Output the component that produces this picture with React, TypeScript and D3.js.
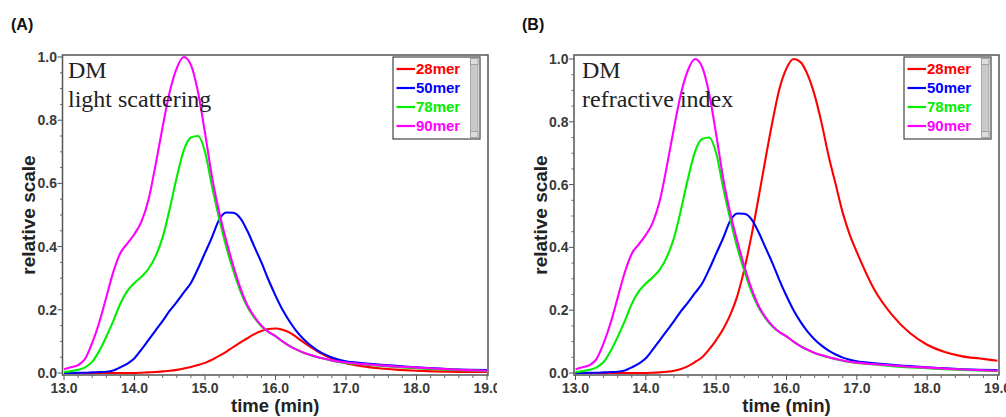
import React from 'react';
import * as d3 from 'd3';

// ---- data ----
const times = [
  13.0, 13.1, 13.2, 13.3, 13.4, 13.5, 13.6, 13.7, 13.8, 13.9,
  14.0, 14.1, 14.2, 14.3, 14.4, 14.5, 14.6, 14.7, 14.8, 14.9,
  15.0, 15.1, 15.2, 15.3, 15.4, 15.5, 15.6, 15.7, 15.8, 15.9,
  16.0, 16.1, 16.2, 16.3, 16.4, 16.5, 16.6, 16.7, 16.8, 16.9,
  17.0, 17.25, 17.5, 17.75, 18.0, 18.25, 18.5, 18.75, 19.0,
];

const mer90 = [
  0.012, 0.018, 0.025, 0.045, 0.095, 0.16, 0.24, 0.32, 0.38, 0.41,
  0.44, 0.48, 0.55, 0.66, 0.78, 0.89, 0.965, 1.0, 0.975, 0.89,
  0.76, 0.62, 0.51, 0.42, 0.34, 0.27, 0.215, 0.178, 0.15, 0.13,
  0.117, 0.1, 0.085, 0.074, 0.064, 0.057, 0.05, 0.045, 0.04, 0.036,
  0.033, 0.028, 0.024, 0.02, 0.017, 0.014, 0.011, 0.009, 0.007,
];

const mer78 = [
  0.003, 0.006, 0.01, 0.018, 0.035, 0.07, 0.115, 0.165, 0.22, 0.26,
  0.285, 0.305, 0.33, 0.37, 0.43, 0.52, 0.62, 0.705, 0.745, 0.75,
  0.7, 0.59, 0.49, 0.4, 0.325, 0.26, 0.21, 0.175, 0.148, 0.13,
  0.117, 0.1, 0.086, 0.074, 0.064, 0.056, 0.05, 0.044, 0.039, 0.035,
  0.032, 0.027, 0.022, 0.018, 0.015, 0.012, 0.01, 0.008, 0.006,
];

const mer50 = [
  0, 0, 0.001, 0.001, 0.002, 0.003, 0.004, 0.008, 0.018, 0.03,
  0.047, 0.075, 0.105, 0.135, 0.165, 0.197, 0.225, 0.255, 0.285, 0.33,
  0.38, 0.43, 0.485, 0.508, 0.507, 0.49, 0.45, 0.4, 0.35, 0.295,
  0.245, 0.2, 0.163, 0.132, 0.107, 0.087, 0.071, 0.059, 0.049, 0.042,
  0.037, 0.031, 0.026, 0.022, 0.018, 0.015, 0.012, 0.01, 0.009,
];

const mer28LS = [
  0, 0, 0, 0, 0, 0, 0, 0, 0, 0,
  0, 0.001, 0.002, 0.003, 0.005, 0.007, 0.01, 0.014, 0.019, 0.025,
  0.032, 0.042, 0.054, 0.067, 0.082, 0.096, 0.11, 0.123, 0.133, 0.139,
  0.141, 0.137, 0.128, 0.113, 0.097, 0.082, 0.068, 0.056, 0.046, 0.038,
  0.031, 0.021, 0.014, 0.01, 0.007, 0.005, 0.004, 0.003, 0.003,
];

const mer28RI = [
  0, 0, 0, 0, 0, 0, 0, 0, 0, 0,
  0, 0.001, 0.002, 0.004, 0.007, 0.013, 0.022, 0.035, 0.05, 0.075,
  0.105, 0.14, 0.185, 0.245, 0.33, 0.435, 0.555, 0.68, 0.8, 0.905,
  0.97, 1.0, 0.99, 0.95, 0.885, 0.795, 0.69, 0.6, 0.51, 0.44,
  0.385, 0.265, 0.185, 0.128, 0.09, 0.067, 0.053, 0.046, 0.039,
];

const seriesNames = ['28mer', '50mer', '78mer', '90mer'];
const seriesColors = ['#ff0000', '#0000ff', '#00ee00', '#ff00ff'];
const xTickLabels = ['13.0', '14.0', '15.0', '16.0', '17.0', '18.0', '19.0'];
const yTickLabels = ['0.0', '0.2', '0.4', '0.6', '0.8', '1.0'];

type PanelCfg = {
  id: string;
  tag: string;
  tagX: number;
  line1: string;
  line2: string;
  textX: number;
  left: number;
  right: number;
  top: number;
  bottom: number;
  x0: number;
  x1: number;
  y0: number;
  y1: number;
  clipLeft: number;
  clipRight: number;
  data: number[][];
};

const panels: PanelCfg[] = [
  {
    id: 'A', tag: '(A)', tagX: 11, line1: 'DM', line2: 'light scattering', textX: 68,
    left: 62.5, right: 488, top: 55, bottom: 375, x0: 64, x1: 487, y0: 373, y1: 57,
    clipLeft: 0, clipRight: 497,
    data: [mer28LS, mer50, mer78, mer90],
  },
  {
    id: 'B', tag: '(B)', tagX: 522, line1: 'DM', line2: 'refractive index', textX: 582,
    left: 574, right: 999, top: 55, bottom: 375, x0: 575.5, x1: 997.5, y0: 373, y1: 59,
    clipLeft: 500, clipRight: 1006,
    data: [mer28RI, mer50, mer78, mer90],
  },
];

const SANS = 'Arial, "Liberation Sans", Helvetica, sans-serif';
const SERIF = '"Times New Roman", "Liberation Serif", serif';

function Panel({ p }: { p: PanelCfg }) {
  const x = d3.scaleLinear().domain([13, 19]).range([p.x0, p.x1]);
  const y = d3.scaleLinear().domain([0, 1]).range([p.y0, p.y1]);
  const line = d3
    .line<[number, number]>()
    .x((d) => x(d[0]))
    .y((d) => y(d[1]))
    .curve(d3.curveMonotoneX);

  const xMajor = xTickLabels.map((s) => +s);
  const xMinor = d3.range(13, 19.001, 0.2).filter((v) => Math.abs(v - Math.round(v)) > 0.01);
  const yMajor = yTickLabels.map((s) => +s);
  const yMinor = d3.range(0, 1.001, 0.05).filter((v) => Math.abs(v * 5 - Math.round(v * 5)) > 0.01);

  const legX = p.right - 95;
  const legY = 57;
  const legW = 87;
  const legH = 82;
  const rowY = [69, 88, 107, 126];
  const midX = (p.left + p.right) / 2;
  const midY = (p.top + p.bottom) / 2;
  const ylabX = p.left - 34;

  return (
    <g clipPath={`url(#panel-${p.id})`}>
      <defs>
        <clipPath id={`panel-${p.id}`}>
          <rect x={p.clipLeft} y={0} width={p.clipRight - p.clipLeft} height={417} />
        </clipPath>
        <clipPath id={`plot-${p.id}`}>
          <rect x={p.left} y={p.top} width={p.right - p.left} height={p.bottom - p.top} />
        </clipPath>
      </defs>

      <text x={p.tagX} y={30} fontFamily={SANS} fontWeight="bold" fontSize={16} fill="#111">
        {p.tag}
      </text>

      {/* curves */}
      <g clipPath={`url(#plot-${p.id})`}>
        {p.data.map((vals, i) => (
          <path
            key={i}
            d={line(times.map((t, k) => [t, vals[k]] as [number, number])) || ''}
            fill="none"
            stroke={seriesColors[i]}
            strokeWidth={2.1}
            strokeLinejoin="round"
          />
        ))}
      </g>

      {/* frame */}
      <rect
        x={p.left}
        y={p.top}
        width={p.right - p.left}
        height={p.bottom - p.top}
        fill="none"
        stroke="#555"
        strokeWidth={1.5}
      />

      {/* y ticks */}
      {yMinor.map((v) => (
        <line key={'ym' + v} x1={p.left - 2.5} x2={p.left} y1={y(v)} y2={y(v)} stroke="#666" strokeWidth={1} />
      ))}
      {yMajor.map((v, i) => (
        <g key={'yM' + v}>
          <line x1={p.left - 5} x2={p.left} y1={y(v)} y2={y(v)} stroke="#555" strokeWidth={1} />
          <text
            x={p.left - 5.5}
            y={y(v)}
            dy="0.36em"
            textAnchor="end"
            fontFamily={SANS}
            fontWeight="bold"
            fontSize={14}
            fill="#3a3a3a"
          >
            {yTickLabels[i]}
          </text>
        </g>
      ))}

      {/* x ticks */}
      {xMinor.map((v) => (
        <line key={'xm' + v} x1={x(v)} x2={x(v)} y1={p.bottom} y2={p.bottom + 3} stroke="#666" strokeWidth={1} />
      ))}
      {xMajor.map((v, i) => (
        <g key={'xM' + v}>
          <line x1={x(v)} x2={x(v)} y1={p.bottom} y2={p.bottom + 5} stroke="#555" strokeWidth={1} />
          <text
            x={x(v)}
            y={393}
            textAnchor="middle"
            fontFamily={SANS}
            fontWeight="bold"
            fontSize={14}
            fill="#3a3a3a"
          >
            {xTickLabels[i]}
          </text>
        </g>
      ))}

      {/* axis titles */}
      <text x={midX} y={412} textAnchor="middle" fontFamily={SANS} fontWeight="bold" fontSize={18.5} fill="#222">
        time (min)
      </text>
      <text
        transform={`translate(${ylabX},${midY}) rotate(-90)`}
        textAnchor="middle"
        dy="0.35em"
        fontFamily={SANS}
        fontWeight="bold"
        fontSize={19}
        fill="#222"
      >
        relative scale
      </text>

      {/* in-plot annotation */}
      <text x={p.textX} y={77.5} fontFamily={SERIF} fontSize={24} fill="#222">
        {p.line1}
      </text>
      <text x={p.textX} y={107} fontFamily={SERIF} fontSize={24} fill="#222">
        {p.line2}
      </text>

      {/* legend */}
      <rect x={legX} y={legY} width={legW} height={legH} fill="#fff" stroke="#444" strokeWidth={1.2} />
      <rect x={legX + legW - 9.5} y={legY + 1.5} width={7.5} height={legH - 3} fill="#c9c9c9" stroke="#9a9a9a" strokeWidth={0.8} />
      <rect x={legX + legW - 9.5} y={legY + 1.5} width={7.5} height={6} fill="#dcdcdc" stroke="#9a9a9a" strokeWidth={0.8} />
      <rect x={legX + legW - 9.5} y={legY + legH - 7.5} width={7.5} height={6} fill="#dcdcdc" stroke="#9a9a9a" strokeWidth={0.8} />
      {seriesNames.map((name, i) => (
        <g key={name}>
          <line x1={legX + 3.5} x2={legX + 22} y1={rowY[i]} y2={rowY[i]} stroke={seriesColors[i]} strokeWidth={2.2} />
          <text
            x={legX + 23}
            y={rowY[i]}
            dy="0.36em"
            fontFamily={SANS}
            fontWeight="bold"
            fontSize={15}
            fill={seriesColors[i]}
          >
            {name}
          </text>
        </g>
      ))}
    </g>
  );
}

export default function App() {
  return (
    <svg
      width={1006}
      height={417}
      viewBox="0 0 1006 417"
      style={{ position: 'absolute', left: 0, top: 0, background: '#fff' }}
    >
      <rect x={0} y={0} width={1006} height={417} fill="#fff" />
      {panels.map((p) => (
        <Panel key={p.id} p={p} />
      ))}
    </svg>
  );
}
